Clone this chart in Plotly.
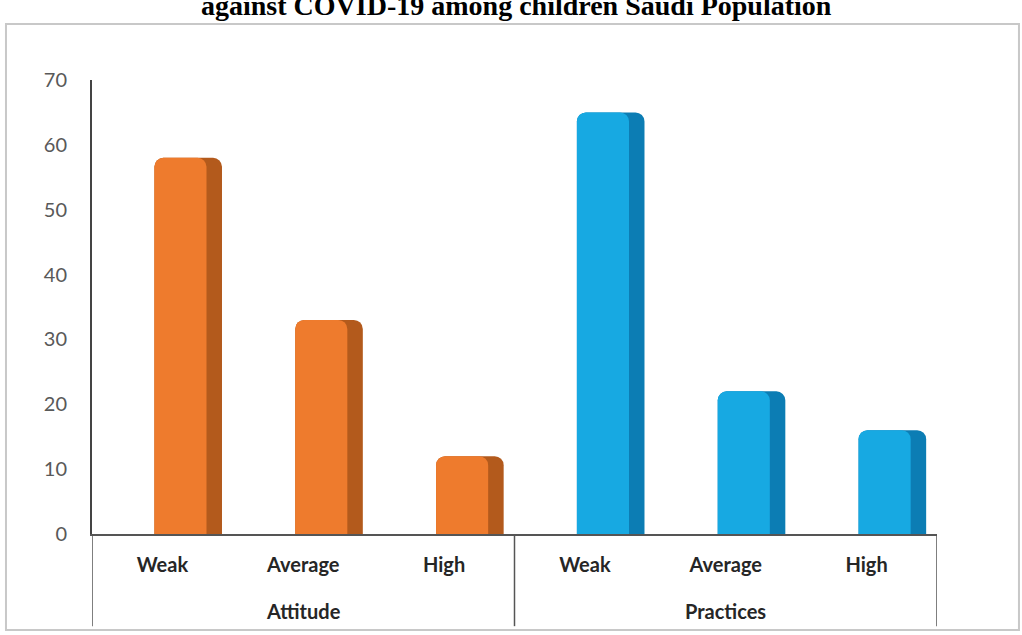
import plotly.graph_objects as go

# ---- data ----
groups = ["Attitude", "Attitude", "Attitude", "Practices", "Practices", "Practices"]
levels = ["Weak", "Average", "High", "Weak", "Average", "High"]
values = [58, 33, 12, 65, 22, 16]
front_colors = ["#EE7B2D"] * 3 + ["#17A9E2"] * 3
side_colors = ["#B35A1C"] * 3 + ["#0C7DB4"] * 3
y_ticks = [0, 10, 20, 30, 40, 50, 60, 70]
title_text = "against COVID-19 among children Saudi Population"

FONT = "Lato"
positions = list(range(len(levels)))

fig = go.Figure()
# darker side face (full bar)
fig.add_trace(go.Bar(
    x=positions, y=values,
    marker=dict(color=side_colors, line=dict(width=0), cornerradius=9),
    width=0.48, offset=-0.057, hoverinfo="skip", showlegend=False,
))
# front face
fig.add_trace(go.Bar(
    x=positions, y=values,
    marker=dict(color=front_colors, line=dict(width=0), cornerradius=9),
    width=0.37, offset=-0.057, showlegend=False,
    customdata=groups, text=levels, textposition="none",
    hovertemplate="%{customdata} - %{text}: %{y}<extra></extra>",
))

# group labels and dividers from the group list
group_names = []
for g in groups:
    if g not in group_names:
        group_names.append(g)
annotations = []
shapes = []
boundaries = [-0.5]
for g in group_names:
    idx = [i for i, gg in enumerate(groups) if gg == g]
    center = (positions[idx[0]] + positions[idx[-1]]) / 2
    annotations.append(dict(
        text="<b>" + g + "</b>", xref="x", yref="paper", x=center, y=-0.17,
        xanchor="center", yanchor="middle", showarrow=False,
        font=dict(family=FONT, size=20, color="#262626"),
    ))
    boundaries.append(positions[idx[-1]] + 0.5)
for b in boundaries:
    shapes.append(dict(
        type="line", xref="x", yref="paper", x0=b, x1=b, y0=0, y1=-0.203,
        line=dict(color="#555555", width=1.5),
    ))

shapes.append(dict(
    type="rect", xref="paper", yref="paper",
    x0=-0.1018, x1=1.097, y0=-0.2115, y1=1.1233,
    line=dict(color="#C8C8C8", width=2), fillcolor="rgba(0,0,0,0)", layer="below",
))
annotations.append(dict(
    text="<b>" + title_text + "</b>", xref="paper", yref="paper",
    x=0.502, y=1.163, xanchor="center", yanchor="middle", showarrow=False,
    font=dict(family="Liberation Serif", size=28, color="black"),
))

fig.update_layout(
    width=1022, height=635,
    margin=dict(l=92, r=85, t=80, b=101),
    paper_bgcolor="white", plot_bgcolor="white",
    barmode="overlay",
    font=dict(family=FONT, size=16, color="#404040"),
    xaxis=dict(
        range=[-0.5, len(levels) - 0.5],
        tickvals=positions, ticktext=["<b>" + l + "</b>" for l in levels],
        showline=True, linecolor="#555555", linewidth=2,
        showgrid=False, zeroline=False, ticks="",
        ticklabelstandoff=12,
        tickfont=dict(family=FONT, size=20, color="#262626"),
    ),
    yaxis=dict(
        range=[0, 70], tickvals=y_ticks,
        showline=True, linecolor="#444444", linewidth=2,
        showgrid=False, zeroline=False,
        ticks="", ticklabelstandoff=19,
        tickfont=dict(family=FONT, size=20, color="#595959"),
    ),
    shapes=shapes,
    annotations=annotations,
)

fig.write_html("out.html")
